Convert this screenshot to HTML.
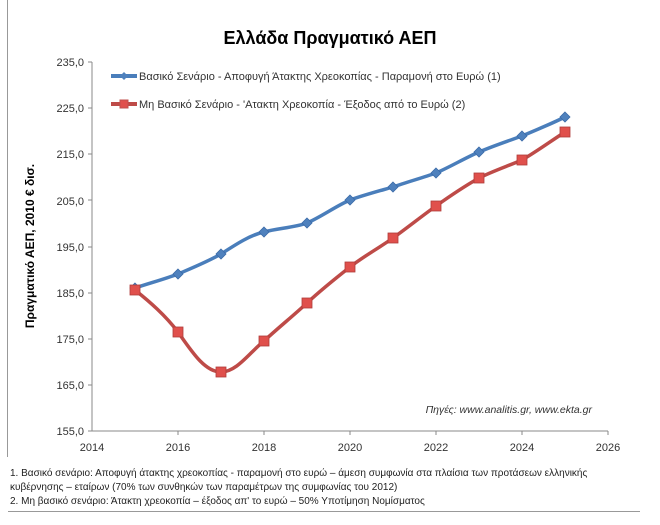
<!DOCTYPE html>
<html><head><meta charset="utf-8"><style>
body{margin:0;background:#fff;width:660px;height:520px;overflow:hidden;font-family:"Liberation Sans","DejaVu Sans",sans-serif}
</style></head><body>
<svg width="660" height="520" xmlns="http://www.w3.org/2000/svg" font-family="Liberation Sans, DejaVu Sans, sans-serif">
<line x1="7.5" y1="0" x2="7.5" y2="457" stroke="#999"/>
<line x1="8" y1="511.5" x2="640" y2="511.5" stroke="#999"/>
<text x="330" y="44" font-size="18" font-weight="bold" text-anchor="middle" fill="#000">Ελλάδα Πραγματικό ΑΕΠ</text>
<g font-size="11" fill="#333" text-anchor="end">
<text x="84" y="66">235,0</text><text x="84" y="112">225,0</text><text x="84" y="158">215,0</text>
<text x="84" y="205">205,0</text><text x="84" y="251">195,0</text><text x="84" y="297">185,0</text>
<text x="84" y="343">175,0</text><text x="84" y="389">165,0</text><text x="84" y="435">155,0</text>
</g>
<g stroke="#888"><line x1="92" y1="62" x2="92" y2="431"/><line x1="92" y1="431" x2="608" y2="431"/>
<line x1="88" y1="62" x2="92" y2="62"/><line x1="88" y1="108" x2="92" y2="108"/><line x1="88" y1="154" x2="92" y2="154"/><line x1="88" y1="200" x2="92" y2="200"/><line x1="88" y1="247" x2="92" y2="247"/><line x1="88" y1="293" x2="92" y2="293"/><line x1="88" y1="339" x2="92" y2="339"/><line x1="88" y1="385" x2="92" y2="385"/><line x1="88" y1="431" x2="92" y2="431"/>
<line x1="178" y1="431" x2="178" y2="435"/><line x1="264" y1="431" x2="264" y2="435"/><line x1="350" y1="431" x2="350" y2="435"/><line x1="436" y1="431" x2="436" y2="435"/><line x1="522" y1="431" x2="522" y2="435"/><line x1="608" y1="431" x2="608" y2="435"/></g>
<g font-size="11" fill="#333" text-anchor="middle">
<text x="92" y="451">2014</text><text x="178" y="451">2016</text><text x="264" y="451">2018</text><text x="350" y="451">2020</text><text x="436" y="451">2022</text><text x="522" y="451">2024</text><text x="608" y="451">2026</text></g>
<text transform="translate(34,246) rotate(-90)" font-size="12" font-weight="bold" text-anchor="middle">Πραγματικό ΑΕΠ, 2010 € δισ.</text>
<text x="592" y="413" font-size="10.5" font-style="italic" fill="#333" text-anchor="end">Πηγές: www.analitis.gr,  www.ekta.gr</text>
<line x1="111" y1="76" x2="137" y2="76" stroke="#4a7ebb" stroke-width="4"/><path d="M124,72 L128,76 L124,80 L120,76Z" fill="#4f81bd"/>
<text x="139" y="80" font-size="11" fill="#333">Βασικό Σενάριο - Αποφυγή Άτακτης Χρεοκοπίας - Παραμονή στο Ευρώ (1)</text>
<line x1="111" y1="104" x2="137" y2="104" stroke="#be4b48" stroke-width="4"/><rect x="120" y="100" width="8" height="8" fill="#e0504c" stroke="#c0504d"/>
<text x="139" y="108" font-size="11" fill="#333">Μη Βασικό Σενάριο - 'Ατακτη Χρεοκοπία - Έξοδος από το Ευρώ (2)</text>
<path d="M135,288 C150,283 165,279 178,274 C192,268 207,262 221,254 C235,245 250,235 264,232 C278,228 293,228 307,223 C321,217 336,206 350,200 C364,195 379,191 393,187 C407,182 422,178 436,173 C450,167 465,158 479,152 C493,146 508,141 522,136 C536,130 551,124 565,117" fill="none" stroke="#4a7ebb" stroke-width="3.5"/>
<path d="M135,290 C150,302 165,315 178,332 C192,352 205,372 221,372 C237,372 250,352 264,341 C278,328 293,316 307,303 C321,290 336,278 350,267 C364,256 379,248 393,238 C407,228 422,216 436,206 C450,196 465,186 479,178 C493,171 508,166 522,160 C536,152 551,141 565,132" fill="none" stroke="#be4b48" stroke-width="3.5"/>
<g fill="#4f81bd" stroke="#3a6aa8" stroke-width="0.8">
<path d="M135,283l5,5l-5,5l-5,-5z"/><path d="M178,269l5,5l-5,5l-5,-5z"/><path d="M221,249l5,5l-5,5l-5,-5z"/><path d="M264,227l5,5l-5,5l-5,-5z"/><path d="M307,218l5,5l-5,5l-5,-5z"/><path d="M350,195l5,5l-5,5l-5,-5z"/><path d="M393,182l5,5l-5,5l-5,-5z"/><path d="M436,168l5,5l-5,5l-5,-5z"/><path d="M479,147l5,5l-5,5l-5,-5z"/><path d="M522,131l5,5l-5,5l-5,-5z"/><path d="M565,112l5,5l-5,5l-5,-5z"/></g>
<g fill="#e0504c" stroke="#b03c3a" stroke-width="0.8">
<rect x="130" y="285" width="10" height="10"/><rect x="173" y="327" width="10" height="10"/><rect x="216" y="367" width="10" height="10"/><rect x="259" y="336" width="10" height="10"/><rect x="302" y="298" width="10" height="10"/><rect x="345" y="262" width="10" height="10"/><rect x="388" y="233" width="10" height="10"/><rect x="431" y="201" width="10" height="10"/><rect x="474" y="173" width="10" height="10"/><rect x="517" y="155" width="10" height="10"/><rect x="560" y="127" width="10" height="10"/></g>
<g font-size="10" fill="#222">
<text x="10" y="476">1. Βασικό σενάριο: Αποφυγή άτακτης χρεοκοπίας - παραμονή στο ευρώ – άμεση συμφωνία  στα πλαίσια των προτάσεων ελληνικής</text>
<text x="10" y="490">κυβέρνησης – εταίρων (70% των συνθηκών  των παραμέτρων της συμφωνίας του 2012)</text>
<text x="10" y="504">2. Μη βασικό  σενάριο: Άτακτη χρεοκοπία – έξοδος απ' το ευρώ – 50% Υποτίμηση Νομίσματος</text>
</g>
</svg>
</body></html>
